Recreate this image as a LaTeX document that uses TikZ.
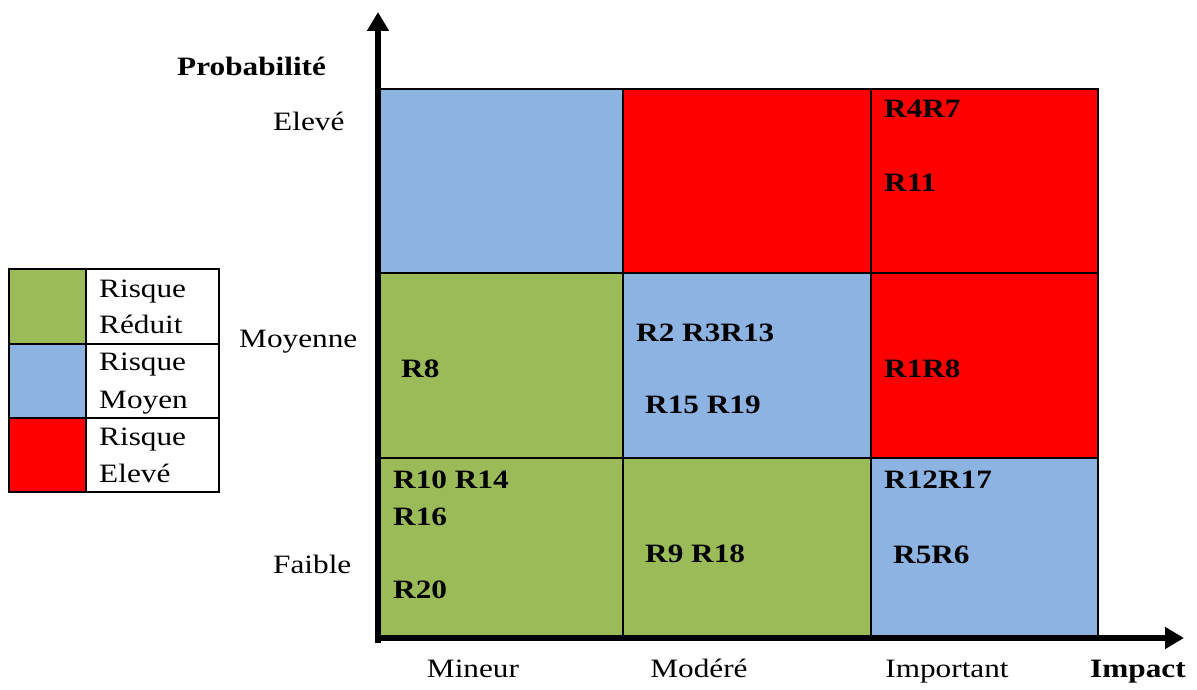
\documentclass[tikz,border=0pt]{standalone}
\usepackage{fontspec}
\setmainfont{Liberation Serif}[FakeStretch=1.18]
\usetikzlibrary{arrows.meta}
\definecolor{riskgreen}{RGB}{155,187,89}
\definecolor{riskblue}{RGB}{141,179,226}
\definecolor{riskred}{RGB}{255,0,0}
\tikzset{
  cell/.style={draw=black, line width=2pt, rectangle, inner sep=0pt, anchor=north west},
  lbl/.style={inner sep=0pt, anchor=base west, font=\fontsize{26.5}{32}\selectfont},
  clbl/.style={inner sep=0pt, anchor=base, font=\fontsize{26.5}{32}\selectfont},
  rlbl/.style={inner sep=0pt, anchor=base west, font=\fontsize{26.5}{32}\selectfont\bfseries},
  axis/.style={line width=5.5pt, draw=black, -{Triangle[length=19pt,width=21pt]}},
}
\begin{document}
\begin{tikzpicture}[x=1pt,y=-1pt]
\useasboundingbox (0,0) rectangle (1197,690);

% risk matrix cells (columns: Mineur, Modere, Important; rows: Eleve, Moyenne, Faible)
\node[cell, fill=riskblue,  minimum width=244pt, minimum height=184pt] (h1) at (378,88) {};
\node[cell, fill=riskred,   minimum width=248pt, minimum height=184pt] (h2) at (622,88) {};
\node[cell, fill=riskred,   minimum width=227pt, minimum height=184pt] (h3) at (870,88) {};
\node[cell, fill=riskgreen, minimum width=244pt, minimum height=185pt] (m1) at (378,272) {};
\node[cell, fill=riskblue,  minimum width=248pt, minimum height=185pt] (m2) at (622,272) {};
\node[cell, fill=riskred,   minimum width=227pt, minimum height=185pt] (m3) at (870,272) {};
\node[cell, fill=riskgreen, minimum width=244pt, minimum height=180pt] (f1) at (378,457) {};
\node[cell, fill=riskgreen, minimum width=248pt, minimum height=180pt] (f2) at (622,457) {};
\node[cell, fill=riskblue,  minimum width=227pt, minimum height=180pt] (f3) at (870,457) {};

% risk identifiers
\node[rlbl] (r47)  at (884,118) {R4R7};
\node[rlbl] (r11)  at (884,192) {R11};
\node[rlbl] (r8a)  at (401,377) {R8};
\node[rlbl] (r2)   at (636,341) {R2 R3R13};
\node[rlbl] (r15)  at (645,413) {R15 R19};
\node[rlbl] (r18b) at (884,377) {R1R8};
\node[rlbl] (r10)  at (393,488) {R10 R14};
\node[rlbl] (r16)  at (393,525) {R16};
\node[rlbl] (r20)  at (393,598) {R20};
\node[rlbl] (r9)   at (645,562) {R9 R18};
\node[rlbl] (r12)  at (884,488) {R12R17};
\node[rlbl] (r56)  at (893,563) {R5R6};

% axes
\coordinate (o)  at (378,643);
\coordinate (yt) at (378,12);
\coordinate (ox) at (375,638);
\coordinate (xt) at (1184,638);
\draw[axis] (o) -- (yt);
\draw[axis] (ox) -- (xt);

% axis titles and levels
\node[rlbl] (prob) at (177,76) {Probabilité};
\node[rlbl] (imp)  at (1090,677) {Impact};
\node[lbl] (ev)  at (273,131) {Elevé};
\node[lbl] (mo)  at (239,347) {Moyenne};
\node[lbl] (fa)  at (273,573) {Faible};
\node[clbl] (mi) at (473,677) {Mineur};
\node[clbl] (md) at (699,677) {Modéré};
\node[clbl] (ip) at (947,677) {Important};

% legend
\node[cell, fill=riskgreen, minimum width=77pt, minimum height=75pt] (sg) at (8,268) {};
\node[cell, fill=riskblue,  minimum width=77pt, minimum height=74pt] (sb) at (8,343) {};
\node[cell, fill=riskred,   minimum width=77pt, minimum height=74pt] (sr) at (8,417) {};
\node[cell, fill=white, minimum width=133pt, minimum height=75pt] (tg) at (85,268) {};
\node[cell, fill=white, minimum width=133pt, minimum height=74pt] (tb) at (85,343) {};
\node[cell, fill=white, minimum width=133pt, minimum height=74pt] (tr) at (85,417) {};
\node[lbl] (lg1) at (99,297) {Risque};
\node[lbl] (lg2) at (99,333) {Réduit};
\node[lbl] (lb1) at (99,370) {Risque};
\node[lbl] (lb2) at (99,408) {Moyen};
\node[lbl] (lr1) at (99,445) {Risque};
\node[lbl] (lr2) at (99,482) {Elevé};
\end{tikzpicture}
\end{document}
